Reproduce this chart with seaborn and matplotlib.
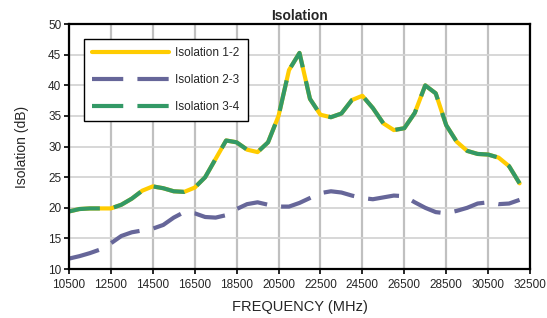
import matplotlib.pyplot as plt
import seaborn as sns
import pandas as pd

# Frequency points (MHz) and isolation readings (dB)
freq = list(range(10500, 32001, 500))

iso_12 = [19.4, 19.8, 19.9, 19.9, 19.9, 20.5, 21.5, 22.8, 23.5, 23.2,
          22.7, 22.6, 23.3, 25.0, 28.0, 31.0, 30.7, 29.5, 29.1, 30.7,
          35.0, 42.5, 45.3, 37.8, 35.2, 34.8, 35.4, 37.6, 38.3, 36.3,
          33.8, 32.7, 33.0, 35.5, 40.0, 38.7, 33.5, 30.8, 29.3, 28.8,
          28.7, 28.2, 26.8, 24.0]

iso_23 = [11.7, 12.1, 12.6, 13.2, 14.2, 15.4, 16.0, 16.3, 16.6, 17.2,
          18.4, 19.3, 19.1, 18.5, 18.4, 18.8, 19.8, 20.6, 20.9, 20.5,
          20.2, 20.2, 20.8, 21.6, 22.4, 22.7, 22.5, 22.0, 21.6, 21.4,
          21.7, 22.0, 21.9, 20.9, 20.0, 19.3, 19.1, 19.5, 20.0, 20.7,
          20.9, 20.6, 20.7, 21.3]

iso_34 = list(iso_12)

series = ["Isolation 1-2", "Isolation 2-3", "Isolation 3-4"]
colors = ["#FFCC00", "#666699", "#339966"]

df = pd.concat([
    pd.DataFrame({"freq": freq, "val": iso_12, "series": series[0]}),
    pd.DataFrame({"freq": freq, "val": iso_23, "series": series[1]}),
    pd.DataFrame({"freq": freq, "val": iso_34, "series": series[2]}),
])

sns.set_theme(style="white")
plt.rcParams["font.family"] = ["Liberation Sans", "DejaVu Sans"]

fig = plt.figure(figsize=(5.47, 3.18), dpi=100)
ax = fig.add_axes([0.126, 0.154, 0.843, 0.770])

sns.lineplot(
    data=df, x="freq", y="val", hue="series", style="series",
    palette=colors, dashes=["", (7.5, 3.4), (7.5, 3.4)],
    linewidth=3, ax=ax, legend=True, sort=False,
)

ax.set_xlim(10500, 32500)
ax.set_ylim(10, 50)
ax.set_xticks(range(10500, 32501, 2000))
ax.set_yticks(range(10, 51, 5))
ax.tick_params(axis="both", labelsize=8.5, length=3.5, width=1.2,
               direction="out", color="black", pad=2)
ax.tick_params(axis="x", pad=4)
ax.xaxis.set_ticks_position("bottom")
ax.yaxis.set_ticks_position("left")

ax.grid(True, axis="x", color="#c0c0c0", linewidth=1.6)
ax.grid(True, axis="y", color="#d4d4d4", linewidth=1.3)
ax.set_axisbelow(True)

for s in ax.spines.values():
    s.set_color("black")
    s.set_linewidth(1.6)
    s.set_visible(True)

ax.set_title("Isolation", fontsize=10, fontweight="bold", pad=3)
ax.set_xlabel("FREQUENCY (MHz)", fontsize=10.5, labelpad=6)
ax.set_ylabel("Isolation (dB)", fontsize=10, labelpad=14)

leg = ax.legend(
    loc="upper left", bbox_to_anchor=(0.033, 0.94), fontsize=8.5,
    frameon=True, fancybox=False, edgecolor="black", framealpha=1,
    handlelength=6.5, handletextpad=0.5, labelspacing=1.25,
    borderpad=0.7, borderaxespad=0,
)
leg.get_frame().set_linewidth(1.0)

fig.savefig("out.png", dpi=100)
